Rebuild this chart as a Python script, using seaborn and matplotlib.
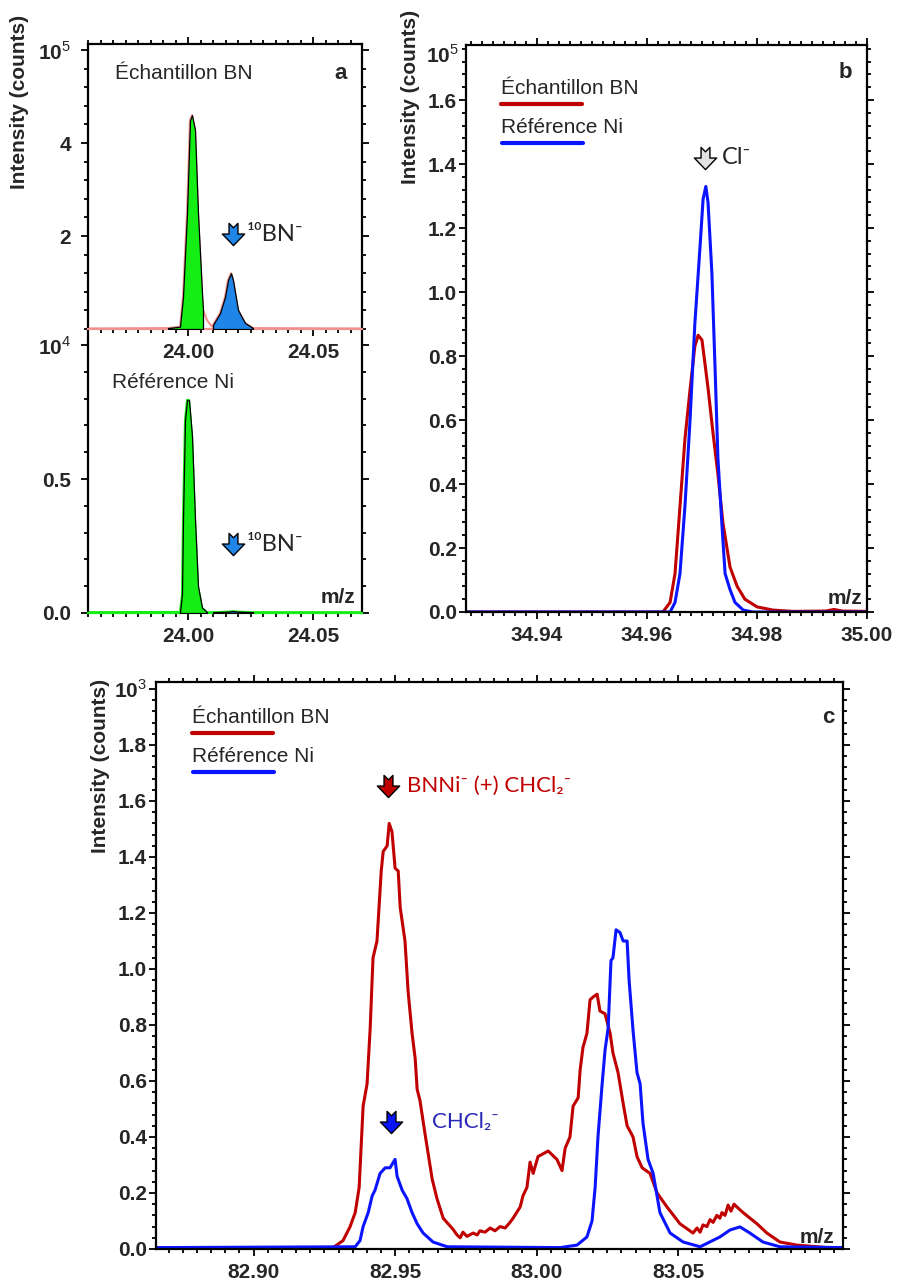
import numpy as np
import matplotlib
matplotlib.use('Agg')
from matplotlib import pyplot as plt
from matplotlib.path import Path
from matplotlib.ticker import MultipleLocator
import seaborn as sns

sns.set_style('ticks')
plt.rcParams['font.family'] = ['Liberation Sans', 'DejaVu Sans']
plt.rcParams['mathtext.fontset'] = 'custom'
plt.rcParams['mathtext.rm'] = 'Liberation Sans'
plt.rcParams['mathtext.bf'] = 'Liberation Sans:bold'

# ---- panel a : m/z 24 region (x10^4 counts) ----
a_bn_mz = [23.960, 23.992, 23.9968, 23.998, 23.9996, 24.0008, 24.0016, 24.0028, 24.004,
           24.0056, 24.006, 24.0076, 24.0096, 24.010, 24.0128, 24.0148, 24.016, 24.0172,
           24.018, 24.020, 24.0228, 24.026, 24.070]
a_bn_int = [0.01, 0.02, 0.05, 0.69, 2.49, 4.49, 4.6, 4.28, 2.49,
            0.77, 0.41, 0.19, 0.05, 0.09, 0.34, 0.69, 1.05, 1.2,
            1.05, 0.41, 0.13, 0.02, 0.01]
a_ni_mz = [23.960, 23.9968, 23.9976, 23.998, 23.9988, 23.9996, 24.0004, 24.0016, 24.0028,
           24.004, 24.0056, 24.0076, 24.010, 24.016, 24.018, 24.020, 24.026, 24.070]
a_ni_int = [0.003, 0.004, 0.07, 0.35, 0.72, 0.795, 0.795, 0.66, 0.35,
            0.10, 0.02, 0.003, 0.003, 0.005, 0.007, 0.005, 0.003, 0.003]
# integration windows (green = 24, blue = 10BN-)
a_green_bn = (23.992, 24.006)
a_blue_bn = (24.010, 24.026)
a_green_ni = (23.9968, 24.0076)
a_blue_ni = (24.010, 24.026)

# ---- panel b : Cl- (x10^5 counts) ----
b_bn_mz = [34.9265, 34.9629, 34.9642, 34.9651, 34.9660, 34.9669, 34.9678, 34.9687, 34.9693,
           34.9700, 34.9711, 34.9720, 34.9729, 34.9738, 34.9751, 34.9764, 34.9778, 34.9800,
           34.9829, 34.9865, 34.9925, 34.9940, 34.9955, 35.0]
b_bn_int = [0.0, 0.0, 0.03, 0.12, 0.33, 0.54, 0.69, 0.83, 0.865,
            0.85, 0.70, 0.56, 0.43, 0.28, 0.14, 0.08, 0.04, 0.016,
            0.006, 0.002, 0.003, 0.008, 0.003, 0.002]
b_ni_mz = [34.9265, 34.9642, 34.9651, 34.9660, 34.9669, 34.9678, 34.9687, 34.9696, 34.9702,
           34.9707, 34.9711, 34.9718, 34.9724, 34.9729, 34.9736, 34.9742, 34.9751, 34.9760,
           34.9775, 34.9793, 35.0]
b_ni_int = [0.0, 0.0, 0.03, 0.12, 0.33, 0.59, 0.90, 1.13, 1.29,
            1.33, 1.28, 1.06, 0.75, 0.48, 0.28, 0.12, 0.07, 0.03,
            0.006, 0.0, 0.0]

# ---- panel c : m/z 83 region (x10^3 counts) ----
c_bn_mz = [82.8655, 82.9281, 82.9316, 82.9341, 82.9359, 82.9373, 82.9387, 82.9401, 82.9412,
           82.9422, 82.9436, 82.9451, 82.9458, 82.9472, 82.9479, 82.9489, 82.9500, 82.9511,
           82.9518, 82.9535, 82.9546, 82.9560, 82.9571, 82.9578, 82.9588, 82.9606, 82.9631,
           82.9648, 82.9670, 82.9705, 82.9719, 82.9730, 82.9740, 82.9754, 82.9776, 82.9790,
           82.9800, 82.9818, 82.9836, 82.9853, 82.9871, 82.9889, 82.9906, 82.9917, 82.9942,
           82.9952, 82.9966, 82.9977, 82.9988, 83.0005, 83.0041, 83.0072, 83.0090, 83.0101,
           83.0118, 83.0129, 83.0147, 83.0154, 83.0164, 83.0178, 83.0189, 83.0200, 83.0214,
           83.0224, 83.0242, 83.0260, 83.0270, 83.0288, 83.0306, 83.0320, 83.0341, 83.0355,
           83.0373, 83.0401, 83.0426, 83.0461, 83.0507, 83.0553, 83.0567, 83.0578, 83.0588,
           83.0602, 83.0613, 83.0624, 83.0637, 83.0648, 83.0655, 83.0666, 83.0677, 83.0687,
           83.0698, 83.0708, 83.0719, 83.0730, 83.0779, 83.0814, 83.0860, 83.0920, 83.1027,
           83.1083]
c_bn_int = [0.005, 0.005, 0.03, 0.08, 0.13, 0.22, 0.51, 0.59, 0.79,
            1.04, 1.10, 1.35, 1.42, 1.44, 1.52, 1.49, 1.36, 1.35,
            1.22, 1.10, 0.92, 0.77, 0.68, 0.57, 0.53, 0.41, 0.25,
            0.18, 0.11, 0.07, 0.05, 0.04, 0.06, 0.045, 0.057, 0.05,
            0.065, 0.06, 0.075, 0.065, 0.08, 0.075, 0.095, 0.11, 0.15,
            0.19, 0.22, 0.31, 0.27, 0.33, 0.35, 0.32, 0.28, 0.36,
            0.40, 0.51, 0.54, 0.64, 0.72, 0.77, 0.89, 0.90, 0.91,
            0.85, 0.84, 0.77, 0.70, 0.63, 0.52, 0.44, 0.40, 0.33,
            0.29, 0.27, 0.20, 0.15, 0.09, 0.057, 0.075, 0.06, 0.086,
            0.08, 0.105, 0.095, 0.12, 0.11, 0.13, 0.12, 0.157, 0.135,
            0.16, 0.15, 0.14, 0.13, 0.09, 0.057, 0.025, 0.014, 0.005,
            0.005]
c_ni_mz = [82.8655, 82.9359, 82.9376, 82.9387, 82.9405, 82.9419, 82.9429, 82.9447, 82.9465,
           82.9482, 82.9500, 82.9507, 82.9525, 82.9542, 82.9560, 82.9578, 82.9599, 82.9634,
           82.9684, 83.0083, 83.0143, 83.0178, 83.0196, 83.0207, 83.0217, 83.0231, 83.0242,
           83.0253, 83.0263, 83.0270, 83.0281, 83.0295, 83.0306, 83.0320, 83.0327, 83.0341,
           83.0355, 83.0366, 83.0376, 83.0394, 83.0412, 83.0436, 83.0472, 83.0518, 83.0578,
           83.0602, 83.0648, 83.0684, 83.0719, 83.0754, 83.0800, 83.0860, 83.1083]
c_ni_int = [0.005, 0.008, 0.03, 0.08, 0.13, 0.19, 0.21, 0.27, 0.29,
            0.29, 0.32, 0.26, 0.21, 0.18, 0.13, 0.09, 0.057, 0.025,
            0.008, 0.005, 0.014, 0.043, 0.10, 0.22, 0.40, 0.58, 0.71,
            0.79, 1.03, 1.04, 1.14, 1.13, 1.10, 1.10, 0.96, 0.78,
            0.63, 0.59, 0.45, 0.32, 0.27, 0.13, 0.057, 0.025, 0.008,
            0.02, 0.043, 0.068, 0.079, 0.057, 0.025, 0.008, 0.005]

# peak labels: (x, y) of arrow
a_arrow_bn = (24.018, 2.04)
a_arrow_ni = (24.018, 0.257)
b_arrow = (34.9705, 1.42)
c_arrow_red = (82.9475, 1.654)
c_arrow_blue = (82.9486, 0.454)

RED = '#c00000'
BLUE = '#0a14ff'
GREEN = '#14ee14'
LBLUE = '#1f86e8'
PINK = '#f29090'
TXTBLUE = '#2a2ab8'

# notched down-arrow marker
arrow = Path([(-0.2, 0.5), (0.0, 0.3), (0.2, 0.5), (0.2, 0.02), (0.5, 0.02),
              (0.0, -0.5), (-0.5, 0.02), (-0.2, 0.02), (-0.2, 0.5)],
             [Path.MOVETO] + [Path.LINETO] * 7 + [Path.CLOSEPOLY])
ann_font = ['Lato', 'DejaVu Sans']


def box(l, t, r, b):
    return [l / 900, 1 - b / 1284, (r - l) / 900, (b - t) / 1284]


def style(ax, xt, xfmt, xminor, yt, ylab, yminor, ypad):
    ax.set_xticks(xt, [xfmt.format(v) for v in xt], fontweight='bold', fontsize=15)
    ax.set_yticks(yt, ylab, fontweight='bold', fontsize=15)
    ax.xaxis.set_minor_locator(MultipleLocator(xminor))
    ax.yaxis.set_minor_locator(MultipleLocator(yminor))
    ax.tick_params(which='both', direction='out', top=True, right=True, width=1.3, color='k')
    ax.tick_params(which='major', length=5)
    ax.tick_params(which='minor', length=2.6)
    ax.tick_params(axis='y', pad=ypad)
    ax.tick_params(axis='x', pad=5)
    for s in ax.spines.values():
        s.set_linewidth(1.6)
        s.set_color('k')
    ax.set_xlabel('')
    ax.set_ylabel('')


def mark(ax, xy, color):
    ax.plot([xy[0]], [xy[1]], marker=arrow, markersize=16, markerfacecolor=color,
            markeredgecolor='k', markeredgewidth=1.0, linestyle='none', zorder=5)


def peak_fill(ax, mz, inten, window, color):
    x = np.array(mz)
    y = np.array(inten)
    m = (x >= window[0]) & (x <= window[1])
    ax.fill_between(x[m], y[m], 0, facecolor=color, edgecolor='k', linewidth=0.9, zorder=3)


fig = plt.figure(figsize=(9, 12.84), dpi=100)

# ---------------- panel a ----------------
ax_a2 = fig.add_axes(box(88, 329, 362, 613))
ax_a1 = fig.add_axes(box(88, 44, 362, 329))
ax_a1.set_zorder(3)

sns.lineplot(x=a_bn_mz, y=a_bn_int, ax=ax_a1, color=PINK, linewidth=1.5,
             estimator=None, sort=False, zorder=2)
peak_fill(ax_a1, a_bn_mz, a_bn_int, a_green_bn, GREEN)
peak_fill(ax_a1, a_bn_mz, a_bn_int, a_blue_bn, LBLUE)
ax_a1.set_xlim(23.96, 24.0696)
ax_a1.set_ylim(0, 6.13)
style(ax_a1, [24.00, 24.05], '{:.2f}', 0.005, [2, 4, 6],
      ['2', '4', r'$\mathbf{10}^{5}$'], 0.4, 7)
ax_a1.spines['bottom'].set_color(PINK)
ax_a1.text(0.0985, 0.898, 'Échantillon BN', transform=ax_a1.transAxes, fontsize=15,
           va='center', ha='left')
ax_a1.text(0.92, 0.898, 'a', transform=ax_a1.transAxes, fontsize=16,
           fontweight='bold', va='center', ha='center')
mark(ax_a1, a_arrow_bn, LBLUE)
ax_a1.text(a_arrow_bn[0] + 0.0055, a_arrow_bn[1], '¹⁰BN⁻', fontsize=17, family=ann_font,
           va='center', ha='left')

sns.lineplot(x=a_ni_mz, y=a_ni_int, ax=ax_a2, color=GREEN, linewidth=1.5,
             estimator=None, sort=False, zorder=2)
peak_fill(ax_a2, a_ni_mz, a_ni_int, a_green_ni, GREEN)
peak_fill(ax_a2, a_ni_mz, a_ni_int, a_blue_ni, LBLUE)
ax_a2.set_xlim(23.96, 24.0696)
ax_a2.set_ylim(0, 1.06)
style(ax_a2, [24.00, 24.05], '{:.2f}', 0.005, [0.0, 0.5, 1.0],
      ['0.0', '0.5', r'$\mathbf{10}^{4}$'], 0.1, 7)
ax_a2.tick_params(which='both', top=False)
ax_a2.spines['top'].set_visible(False)
ax_a2.spines['bottom'].set_color(GREEN)
ax_a2.text(0.0876, 0.813, 'Référence Ni', transform=ax_a2.transAxes, fontsize=15,
           va='center', ha='left')
ax_a2.text(0.975, 0.053, 'm/z', transform=ax_a2.transAxes, fontsize=15,
           fontweight='bold', va='center', ha='right')
mark(ax_a2, a_arrow_ni, LBLUE)
ax_a2.text(a_arrow_ni[0] + 0.0055, a_arrow_ni[1], '¹⁰BN⁻', fontsize=17, family=ann_font,
           va='center', ha='left')

# ---------------- panel b ----------------
ax_b = fig.add_axes(box(466, 45, 867, 612))
sns.lineplot(x=b_bn_mz, y=b_bn_int, ax=ax_b, color=RED, linewidth=2.2,
             estimator=None, sort=False)
sns.lineplot(x=b_ni_mz, y=b_ni_int, ax=ax_b, color=BLUE, linewidth=2.2,
             estimator=None, sort=False)
ax_b.set_xlim(34.9271, 35.0)
ax_b.set_ylim(0, 1.772)
style(ax_b, [34.94, 34.96, 34.98, 35.00], '{:.2f}', 0.002,
      [0.0, 0.2, 0.4, 0.6, 0.8, 1.0, 1.2, 1.4, 1.6],
      ['0.0', '0.2', '0.4', '0.6', '0.8', '1.0', '1.2', '1.4', '1.6'], 0.04, 1.5)
ax_b.text(-0.018, 0.982, r'$\mathbf{10}^{5}$', transform=ax_b.transAxes, fontsize=15,
          va='center', ha='right')
ax_b.text(0.087, 0.924, 'Échantillon BN', transform=ax_b.transAxes, fontsize=15,
          va='center', ha='left')
ax_b.plot([0.087, 0.289], [0.896, 0.896], transform=ax_b.transAxes, color=RED, lw=3)
ax_b.text(0.087, 0.855, 'Référence Ni', transform=ax_b.transAxes, fontsize=15,
          va='center', ha='left')
ax_b.plot([0.089, 0.291], [0.827, 0.827], transform=ax_b.transAxes, color=BLUE, lw=3)
ax_b.text(0.945, 0.952, 'b', transform=ax_b.transAxes, fontsize=16,
          fontweight='bold', va='center', ha='center')
ax_b.text(0.988, 0.023, 'm/z', transform=ax_b.transAxes, fontsize=15,
          fontweight='bold', va='center', ha='right')
mark(ax_b, b_arrow, '#e2e2e2')
ax_b.text(b_arrow[0] + 0.0032, b_arrow[1], 'Cl⁻', fontsize=17, family=ann_font,
          va='center', ha='left')

# ---------------- panel c ----------------
ax_c = fig.add_axes(box(156, 682, 843, 1249))
sns.lineplot(x=c_bn_mz, y=c_bn_int, ax=ax_c, color=RED, linewidth=2.2,
             estimator=None, sort=False)
sns.lineplot(x=c_ni_mz, y=c_ni_int, ax=ax_c, color=BLUE, linewidth=2.2,
             estimator=None, sort=False)
ax_c.set_xlim(82.8655, 83.1083)
ax_c.set_ylim(0, 2.025)
style(ax_c, [82.90, 82.95, 83.00, 83.05], '{:.2f}', 0.005,
      [0.0, 0.2, 0.4, 0.6, 0.8, 1.0, 1.2, 1.4, 1.6, 1.8, 2.0],
      ['0.0', '0.2', '0.4', '0.6', '0.8', '1.0', '1.2', '1.4', '1.6', '1.8',
       r'$\mathbf{10}^{3}$'], 0.04, 1.5)
ax_c.text(0.0524, 0.938, 'Échantillon BN', transform=ax_c.transAxes, fontsize=15,
          va='center', ha='left')
ax_c.plot([0.0524, 0.170], [0.910, 0.910], transform=ax_c.transAxes, color=RED, lw=3)
ax_c.text(0.0524, 0.869, 'Référence Ni', transform=ax_c.transAxes, fontsize=15,
          va='center', ha='left')
ax_c.plot([0.0539, 0.1718], [0.841, 0.841], transform=ax_c.transAxes, color=BLUE, lw=3)
ax_c.text(0.978, 0.937, 'c', transform=ax_c.transAxes, fontsize=16,
          fontweight='bold', va='center', ha='center')
ax_c.text(0.988, 0.021, 'm/z', transform=ax_c.transAxes, fontsize=15,
          fontweight='bold', va='center', ha='right')
mark(ax_c, c_arrow_red, RED)
ax_c.text(c_arrow_red[0] + 0.0068, c_arrow_red[1], 'BNNi⁻ (+) CHCl₂⁻', fontsize=16,
          family=ann_font, color=RED, va='center', ha='left')
mark(ax_c, c_arrow_blue, BLUE)
ax_c.text(c_arrow_blue[0] + 0.0145, c_arrow_blue[1], 'CHCl₂⁻', fontsize=16,
          family=ann_font, color=TXTBLUE, va='center', ha='left')

# y-axis titles
for xp, yp in [(20, 102), (410, 97), (100, 766)]:
    fig.text(xp / 900, 1 - yp / 1284, 'Intensity (counts)', rotation=90, fontsize=15,
             fontweight='bold', ha='center', va='center')

fig.savefig('out.png', dpi=100)
